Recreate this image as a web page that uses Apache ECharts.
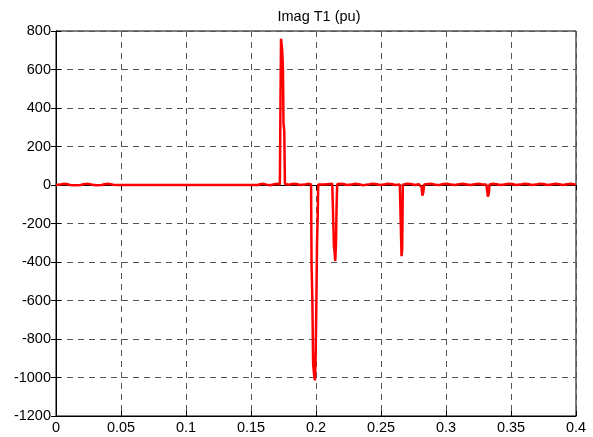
<!DOCTYPE html>
<html><head><meta charset="utf-8">
<script src="https://cdn.jsdelivr.net/npm/echarts@6/dist/echarts.min.js"></script>
<style>html,body{margin:0;padding:0;background:#fff}#c{width:593px;height:437px}</style>
</head><body><div id="c"></div>
<script>
const titleText = 'Imag T1 (pu)';
const xTicks = [0, 0.05, 0.1, 0.15, 0.2, 0.25, 0.3, 0.35, 0.4];
const yTicks = [-1200, -1000, -800, -600, -400, -200, 0, 200, 400, 600, 800];
// time (s)
const timeVals = [
  0, 0.003, 0.006, 0.008, 0.011, 0.014, 0.019, 0.022, 0.025, 0.028, 0.031, 0.035, 0.038, 0.041, 0.044, 0.047,
  0.155, 0.157, 0.159, 0.162, 0.165, 0.167, 0.17, 0.1722,
  0.1728, 0.1731, 0.1734, 0.174, 0.1746, 0.175, 0.1756, 0.1761, 0.1766,
  0.179, 0.182, 0.185, 0.188, 0.191, 0.194, 0.1962,
  0.1966, 0.1972, 0.1978, 0.1986, 0.1992, 0.1997, 0.2002, 0.2008, 0.2013, 0.2017,
  0.203, 0.206, 0.209, 0.2125, 0.2134,
  0.2138, 0.2142, 0.2148, 0.2154, 0.2158, 0.2163,
  0.218, 0.221, 0.224, 0.227, 0.23, 0.233, 0.236, 0.24, 0.243, 0.246, 0.249, 0.252, 0.255, 0.258, 0.261, 0.2645,
  0.2652, 0.2658, 0.2663, 0.2668,
  0.27, 0.273, 0.276, 0.279, 0.2812, 0.2818, 0.2825, 0.2832,
  0.286, 0.289, 0.292, 0.295, 0.298, 0.301, 0.304, 0.307, 0.31, 0.313, 0.316, 0.319, 0.322, 0.325, 0.328, 0.331,
  0.3315, 0.3322, 0.3329, 0.3335,
  0.336, 0.339, 0.342, 0.345, 0.348, 0.351, 0.354, 0.357, 0.36, 0.363, 0.366, 0.369, 0.372, 0.375, 0.378, 0.381,
  0.384, 0.387, 0.39, 0.393, 0.396, 0.4
];
// Imag T1 (pu)
const imagVals = [
  0, 2, 6, 5, 0, -1, 0, 5, 6, 1, -1, 0, 5, 6, 1, 0,
  0, 4, 6, 2, -1, 3, 6, 3,
  530, 760, 755, 700, 600, 320, 280, 5, 3,
  1, 6, 5, 0, 2, 6, 4,
  -420, -600, -930, -990, -1015, -900, -660, -300, -170, 3,
  6, 2, 4, 6, 3,
  -320, -340, -395, -300, -120, 4,
  6, 5, 0, 2, 6, 4, -1, 2, 6, 5, 0, 2, 6, 5, 0, 3,
  -200, -370, -330, 2,
  6, 5, 0, 4, -10, -55, -40, 3,
  5, 6, 1, 0, 5, 6, 2, 0, 4, 6, 3, 0, 4, 6, 3, 2,
  -20, -60, -45, 3,
  6, 4, 0, 3, 6, 5, 0, 2, 6, 5, 0, 2, 6, 5, 0, 3,
  6, 4, 0, 4, 6, 2
];
const points = timeVals.map((t, i) => [t, imagVals[i]]);

const chart = echarts.init(document.getElementById('c'), null, {renderer: 'canvas'});
const font = 'Liberation Sans, Arial, sans-serif';
const gridLine = {show: true, lineStyle: {color: '#555', width: 1, type: [6, 5]}};
chart.setOption({
  animation: false,
  backgroundColor: '#fff',
  title: {text: titleText, left: 314, top: 4, textAlign: 'center',
    textStyle: {fontFamily: font, fontSize: 14.5, fontWeight: 'normal', color: '#000'}},
  grid: {left: 56, right: 17, top: 31, bottom: 21, show: true, borderColor: '#000', borderWidth: 1},
  xAxis: [{
    type: 'value', min: 0, max: 0.4, interval: 0.05, position: 'bottom',
    axisLine: {show: true, onZero: false, lineStyle: {color: '#000', width: 1}},
    axisTick: {show: true, inside: true, length: 5, lineStyle: {color: '#000'}},
    axisLabel: {color: '#000', fontFamily: font, fontSize: 14.5, margin: 4,
      formatter: v => String(+v.toFixed(2))},
    splitLine: gridLine
  }, {
    type: 'value', min: 0, max: 0.4, interval: 0.05, position: 'top',
    axisLine: {show: true, lineStyle: {color: '#000'}},
    axisTick: {show: true, inside: true, length: 5, lineStyle: {color: '#000'}},
    axisLabel: {show: false}, splitLine: {show: false}
  }],
  yAxis: [{
    type: 'value', min: -1200, max: 800, interval: 200, position: 'left',
    axisLine: {show: true, onZero: false, lineStyle: {color: '#000', width: 1}},
    axisTick: {show: true, inside: true, length: 5, lineStyle: {color: '#000'}},
    axisLabel: {color: '#000', fontFamily: font, fontSize: 14.5, margin: 5,
      formatter: v => String(v)},
    splitLine: gridLine
  }, {
    type: 'value', min: -1200, max: 800, interval: 200, position: 'right',
    axisLine: {show: true, lineStyle: {color: '#000'}},
    axisTick: {show: true, inside: true, length: 5, lineStyle: {color: '#000'}},
    axisLabel: {show: false}, splitLine: {show: false}
  }],
  series: [{
    type: 'line', data: points, showSymbol: false, symbol: 'none',
    lineStyle: {color: '#ff0000', width: 2.5}, z: 3
  }]
});
</script></body></html>
